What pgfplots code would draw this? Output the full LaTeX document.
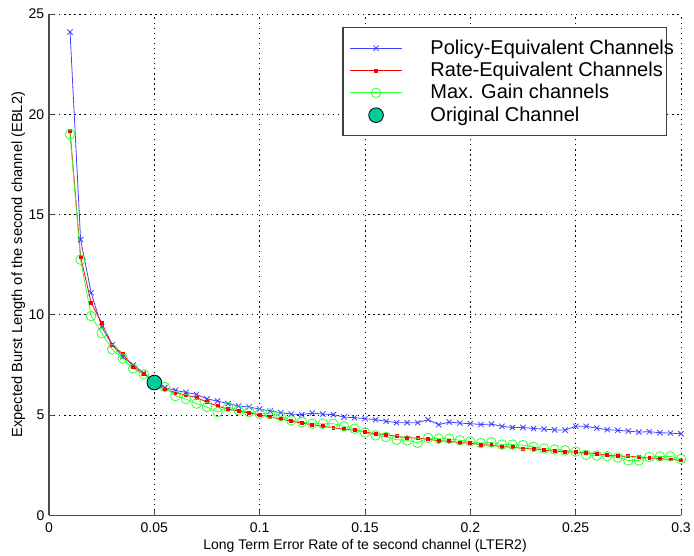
\documentclass[border=0pt]{standalone}
\usepackage{fontspec}
\setmainfont{Liberation Sans}
\usepackage{pgfplots}
\usepackage{pgfplotstable}
\pgfplotsset{compat=1.18}
\definecolor{pblue}{rgb}{0.25,0.25,1}
\definecolor{pgreen}{rgb}{0.2,1,0.2}
\definecolor{porig}{rgb}{0,0.8,0.6}
\pgfplotstableread{
x p r g
0.010 24.1 19.15 19.0
0.015 13.75 12.9 12.75
0.020 11.1 10.6 9.94
0.025 9.4 9.6 9.09
0.030 8.5 8.5 8.28
0.035 7.9 8.05 7.81
0.040 7.5 7.4 7.32
0.045 7.1 7.07 7.03
0.050 6.65 6.62 6.62
0.055 6.37 6.28 6.4
0.060 6.23 6.12 5.95
0.065 6.13 6.0 5.8
0.070 6.03 5.87 5.57
0.075 5.8 5.65 5.4
0.080 5.7 5.45 5.15
0.085 5.57 5.3 5.4
0.090 5.45 5.2 5.24
0.095 5.4 5.1 5.15
0.100 5.3 5.02 5.07
0.105 5.2 4.9 5.07
0.110 5.12 4.8 4.94
0.115 5.05 4.7 4.74
0.120 5.02 4.6 4.65
0.125 5.1 4.52 4.57
0.130 5.05 4.44 4.57
0.135 5.02 4.37 4.57
0.140 4.9 4.3 4.44
0.145 4.87 4.24 4.32
0.150 4.82 4.16 4.13
0.155 4.77 4.07 3.99
0.160 4.69 4.02 3.91
0.165 4.62 3.94 3.77
0.170 4.62 3.87 3.74
0.175 4.62 3.85 3.62
0.180 4.77 3.79 3.86
0.185 4.52 3.72 3.82
0.190 4.65 3.69 3.82
0.195 4.6 3.63 3.74
0.200 4.57 3.6 3.69
0.205 4.53 3.53 3.6
0.210 4.55 3.5 3.64
0.215 4.44 3.43 3.53
0.220 4.38 3.4 3.53
0.225 4.38 3.33 3.5
0.230 4.33 3.32 3.41
0.235 4.3 3.25 3.33
0.240 4.26 3.2 3.28
0.245 4.25 3.17 3.24
0.250 4.44 3.15 3.18
0.255 4.44 3.11 3.02
0.260 4.35 3.08 2.98
0.265 4.27 3.0 2.95
0.270 4.24 2.96 2.88
0.275 4.2 2.94 2.74
0.280 4.15 2.91 2.74
0.285 4.17 2.86 2.91
0.290 4.12 2.83 2.94
0.295 4.1 2.79 2.94
0.300 4.07 2.74 2.81
}\datatable
\begin{document}
\begin{tikzpicture}
\useasboundingbox (-36.75pt,-30pt) rectangle (483.75pt,386.5pt);
\begin{axis}[
  at={(0pt,0pt)}, anchor=south west,
  scale only axis, width=474pt, height=376pt,
  xmin=0, xmax=0.3, ymin=0, ymax=25,
  axis lines=left, axis line style={-, draw=black!70, line width=0.8pt},
  tick align=inside, major tick length=4pt,
  tick style={black!70, line width=0.6pt},
  xtick={0,0.05,0.1,0.15,0.2,0.25,0.3},
  xticklabels={0,0.05,0.1,0.15,0.2,0.25,0.3},
  ytick={0,5,10,15,20,25},
  yticklabels={0,5,10,15,20,25},
  ticklabel style={font=\fontsize{10.5}{12}\selectfont},
  xticklabel style={yshift=-2pt},
  grid=major,
  major grid style={black, line width=0.6pt, dash pattern=on 1pt off 2.8pt},
  xlabel={Long Term Error Rate of te second channel (LTER2)},
  ylabel={Expected Burst Length of the second channel (EBL2)},
  xlabel style={font=\fontsize{10.5}{12}\selectfont, at={(axis description cs:0.5,-0.06)}, anchor=center},
  ylabel style={font=\fontsize{11}{12}\selectfont, at={(axis description cs:-0.0485,0.5)}, anchor=center, rotate=0},
  legend style={at={(1,1)}, anchor=north east, xshift=-10.5pt, yshift=-9.75pt,
    draw=black!75, line width=0.8pt, fill=white,
    font=\fontsize{15}{16}\selectfont,
    cells={anchor=west},
    nodes={text height=12pt, text depth=3pt, inner ysep=1pt},
    inner xsep=5pt, inner ysep=7pt,
    row sep=-0.25pt,
    /tikz/every odd column/.append style={column sep=19pt}},
  legend image code/.code={\draw[mark repeat=2,mark phase=2,#1] plot coordinates {(0pt,0pt) (19.5pt,0pt) (39pt,0pt)};},
  clip=false,
]
\addplot[pblue, line width=0.6pt, mark=x, mark size=2.8pt] table[x=x,y=p] {\datatable};
\addlegendentry{\makebox[170pt][l]{Policy-Equivalent Channels}}
\addplot[red, line width=0.6pt, mark=square*, mark size=1.1pt] table[x=x,y=r] {\datatable};
\addlegendentry{\makebox[170pt][l]{Rate-Equivalent Channels}}
\addplot[pgreen, line width=0.6pt, mark=o, mark size=3.6pt] table[x=x,y=g] {\datatable};
\addlegendentry{\makebox[170pt][l]{Max. Gain channels}}
\addplot[only marks, mark=*, mark size=5.5pt, mark options={fill=porig, draw=black, line width=0.6pt}] coordinates {(0.05,6.62)};
\addlegendentry{\makebox[170pt][l]{Original Channel}}
\end{axis}
\end{tikzpicture}
\end{document}
